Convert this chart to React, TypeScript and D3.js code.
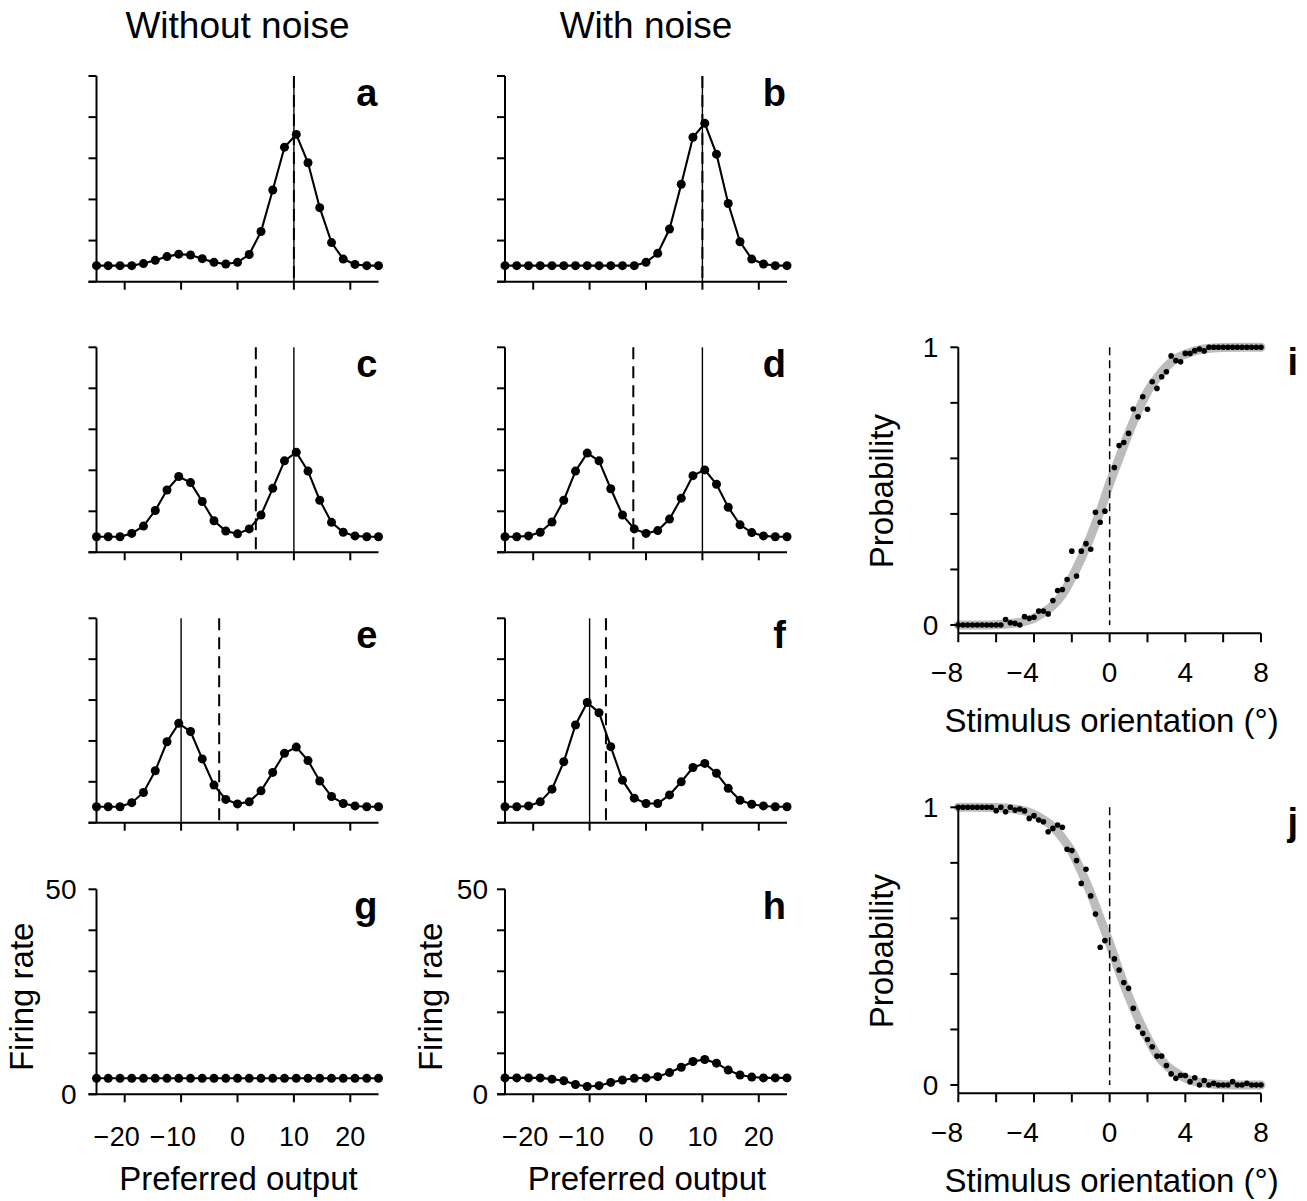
import React from "react";
import * as d3 from "d3";

// ---------- data ----------
const preferredOutput = [
  -25, -22.92, -20.83, -18.75, -16.67, -14.58, -12.5, -10.42, -8.33, -6.25, -4.17, -2.08, 0,
  2.08, 4.17, 6.25, 8.33, 10.42, 12.5, 14.58, 16.67, 18.75, 20.83, 22.92, 25,
];
const rateA = [3.9, 3.9, 3.9, 3.9, 4.4, 5.2, 6.1, 6.7, 6.5, 5.6, 4.7, 4.3, 4.7, 6.6, 12.2, 22.3, 32.7, 35.8, 28.9, 18.0, 9.5, 5.5, 4.2, 3.9, 3.9];
const rateB = [3.9, 3.9, 3.9, 3.9, 3.9, 3.9, 3.9, 3.9, 3.9, 3.9, 3.9, 3.9, 4.7, 6.9, 12.8, 23.7, 35.1, 38.5, 31.0, 19.0, 9.7, 5.5, 4.3, 3.9, 3.9];
const rateC = [3.8, 3.8, 3.8, 4.6, 6.4, 10.2, 15.2, 18.5, 17.0, 12.4, 7.7, 5.2, 4.5, 5.7, 9.1, 15.6, 22.3, 24.4, 19.8, 12.7, 7.3, 4.9, 4.0, 3.8, 3.8];
const rateD = [3.8, 3.8, 4.0, 4.9, 7.4, 12.7, 19.8, 24.2, 22.3, 15.5, 9.1, 5.7, 4.6, 5.3, 8.1, 13.2, 18.7, 20.1, 16.6, 11.0, 6.7, 4.8, 4.0, 3.8, 3.8];
const rateE = [3.9, 3.9, 3.9, 4.9, 7.4, 12.7, 19.8, 24.3, 22.3, 15.6, 9.2, 5.7, 4.6, 5.1, 7.8, 12.3, 17.0, 18.5, 15.2, 10.2, 6.4, 4.7, 4.1, 3.9, 3.9];
const rateF = [3.9, 3.9, 4.1, 5.1, 8.2, 14.9, 23.9, 29.4, 26.9, 18.6, 10.4, 6.0, 4.7, 4.7, 6.8, 10.0, 13.5, 14.5, 12.1, 8.4, 5.5, 4.5, 4.1, 3.9, 3.9];
const rateG = [3.9, 3.9, 3.9, 3.9, 3.9, 3.9, 3.9, 3.9, 3.9, 3.9, 3.9, 3.9, 3.9, 3.9, 3.9, 3.9, 3.9, 3.9, 3.9, 3.9, 3.9, 3.9, 3.9, 3.9, 3.9];
const rateH = [4.0, 4.0, 4.0, 4.0, 3.7, 3.3, 2.4, 1.9, 2.1, 2.9, 3.5, 3.9, 4.0, 4.3, 5.3, 6.6, 8.0, 8.5, 7.6, 5.9, 4.7, 4.2, 4.0, 4.0, 4.0];

// vertical markers (solid = true stimulus, dashed = decoded estimate) for panels a–f
const solidMarker = [10, 10, 10, 10, -10, -10];
const dashedMarker = [10, 10, 3.25, -2.25, -3.25, -7.1];

const panelLetters = ["a", "b", "c", "d", "e", "f", "g", "h"];
const columnTitles = ["Without noise", "With noise"];
const xTicksPref = [-20, -10, 0, 10, 20];
const yTicksRate = [0, 10, 20, 30, 40, 50];
const yLabelsRate = [0, 50];

const orientations = [
  -8, -7.75, -7.5, -7.25, -7, -6.75, -6.5, -6.25, -6, -5.75, -5.5, -5.25, -5, -4.75, -4.5, -4.25,
  -4, -3.75, -3.5, -3.25, -3, -2.75, -2.5, -2.25, -2, -1.75, -1.5, -1.25, -1, -0.75, -0.5, -0.25,
  0.25, 0.5, 0.75, 1, 1.25, 1.5, 1.75, 2, 2.25, 2.5, 2.75, 3, 3.25, 3.5, 3.75, 4,
  4.25, 4.5, 4.75, 5, 5.25, 5.5, 5.75, 6, 6.25, 6.5, 6.75, 7, 7.25, 7.5, 7.75, 8,
];
const probI = [
  0, 0, 0, 0, 0, 0, 0, 0, 0, 0, 0.02, 0.008, 0.006, 0, 0.03, 0.024,
  0.028, 0.05, 0.05, 0.04, 0.088, 0.124, 0.128, 0.164, 0.266, 0.176, 0.266, 0.293, 0.273, 0.406, 0.37, 0.41,
  0.567, 0.646, 0.657, 0.69, 0.778, 0.75, 0.822, 0.777, 0.876, 0.852, 0.894, 0.912, 0.969, 0.952, 0.948, 0.978,
  0.978, 0.988, 0.994, 0.987, 1, 1, 1, 1, 1, 1, 1, 1, 1, 1, 1, 1,
];
const probJ = [
  1, 1, 1, 1, 1, 1, 1, 1, 0.988, 1, 0.984, 1, 0.99, 0.994, 0.987, 0.96,
  0.97, 0.954, 0.948, 0.912, 0.924, 0.936, 0.928, 0.849, 0.844, 0.808, 0.726, 0.777, 0.681, 0.616, 0.496, 0.52,
  0.454, 0.414, 0.369, 0.348, 0.276, 0.21, 0.186, 0.164, 0.138, 0.104, 0.104, 0.07, 0.04, 0.024, 0.035, 0.034,
  0.012, 0.026, 0, 0.016, 0, 0.006, 0, 0, 0, 0.012, 0, 0, 0.006, 0, 0, 0,
];
const fitX = [-8, -7, -6, -5, -4.5, -4, -3.5, -3, -2.5, -2, -1.5, -1, -0.5, 0, 0.5, 1, 1.5, 2, 2.5, 3, 3.5, 4, 4.5, 5, 6, 7, 8];
const fitI = [0, 0, 0.001, 0.007, 0.013, 0.025, 0.045, 0.07, 0.11, 0.17, 0.24, 0.32, 0.41, 0.51, 0.6, 0.69, 0.77, 0.84, 0.89, 0.93, 0.96, 0.975, 0.987, 0.994, 0.999, 1, 1];
const fitJ = [1, 1, 0.999, 0.993, 0.987, 0.975, 0.955, 0.93, 0.89, 0.84, 0.77, 0.69, 0.6, 0.51, 0.41, 0.32, 0.24, 0.17, 0.11, 0.07, 0.045, 0.025, 0.013, 0.007, 0.001, 0, 0];
const xTicksOri = [-8, -6, -4, -2, 0, 2, 4, 6, 8];
const xLabelsOri = [-8, -4, 0, 4, 8];
const yTicksProb = [0, 0.2, 0.4, 0.6, 0.8, 1];
const yLabelsProb = [0, 1];

// ---------- layout ----------
const W = 1307;
const H = 1201;
const FONT = '"Liberation Sans", Arial, Helvetica, sans-serif';
const colRange = [
  [96.5, 378.5],
  [505, 787],
];
const rowRange = [
  [281.7, 76],
  [552.3, 347.3],
  [822.7, 618.3],
  [1094.3, 889.3],
];
const TICK_FS = 27;
const TITLE_FS = 33;

function NegLabel({ x, y, v, fs }: { x: number; y: number; v: number; fs: number }) {
  const digits = String(Math.abs(v));
  const dw = digits.length * 0.556 * fs;
  return (
    <g>
      <text x={x} y={y} textAnchor="middle" fontSize={fs} fontFamily={FONT}>
        {digits}
      </text>
      {v < 0 && (
        <text x={x - dw / 2 - 0.5} y={y} textAnchor="end" fontSize={fs} fontFamily={FONT}>
          {"\u2212"}
        </text>
      )}
    </g>
  );
}

function TuningPanel({ idx, rates }: { idx: number; rates: number[] }) {
  const col = idx % 2;
  const row = Math.floor(idx / 2);
  const x = d3.scaleLinear().domain([-25, 25]).range(colRange[col]);
  const y = d3.scaleLinear().domain([0, 50]).range(rowRange[row]);
  const line = d3
    .line<number>()
    .x((_, i) => x(preferredOutput[i]))
    .y((d) => y(d));
  const x0 = x(-25);
  const x1 = x(25);
  const y0 = y(0);
  const yTop = y(50);
  const bottom = row === 3;
  return (
    <g>
      {idx < 6 && (
        <>
          <line x1={x(solidMarker[idx])} x2={x(solidMarker[idx])} y1={yTop} y2={y0} stroke="#000" strokeWidth={1.4} />
          <line
            x1={x(dashedMarker[idx])}
            x2={x(dashedMarker[idx])}
            y1={yTop}
            y2={y0}
            stroke="#000"
            strokeWidth={2}
            strokeDasharray="12,7"
          />
        </>
      )}
      {/* axes */}
      <line x1={x0} x2={x0} y1={yTop} y2={y0} stroke="#000" strokeWidth={2} />
      <line x1={x0 - 8} x2={x1} y1={y0} y2={y0} stroke="#000" strokeWidth={2} />
      {yTicksRate.map((t) => (
        <line key={"yt" + t} x1={x0 - 8} x2={x0} y1={y(t)} y2={y(t)} stroke="#000" strokeWidth={2} />
      ))}
      {xTicksPref.map((t) => (
        <line key={"xt" + t} x1={x(t)} x2={x(t)} y1={y0} y2={y0 + 8} stroke="#000" strokeWidth={2} />
      ))}
      <path d={line(rates) || ""} fill="none" stroke="#000" strokeWidth={2.1} />
      {rates.map((d, i) => (
        <circle key={i} cx={x(preferredOutput[i])} cy={y(d)} r={4.5} fill="#000" />
      ))}
      <text
        x={x1 - 1}
        y={yTop + 30}
        textAnchor="end"
        fontSize={38}
        fontWeight="bold"
        fontFamily={FONT}
      >
        {panelLetters[idx]}
      </text>
      {bottom && (
        <>
          {yLabelsRate.map((t) => (
            <text
              key={"yl" + t}
              x={col === 0 ? x0 - 20 : x0 - 17}
              y={y(t)}
              dy="0.36em"
              textAnchor="end"
              fontSize={TICK_FS + 1}
              fontFamily={FONT}
            >
              {t}
            </text>
          ))}
          {xTicksPref.map((t) => (
            <NegLabel key={"xl" + t} x={x(t)} y={y0 + 52} v={t} fs={TICK_FS} />
          ))}
          <text
            x={(x0 + x1) / 2 + 1}
            y={y0 + 96}
            textAnchor="middle"
            fontSize={TITLE_FS}
            fontFamily={FONT}
          >
            Preferred output
          </text>
          <text
            transform={`translate(${x0 - 63.5},${(y0 + yTop) / 2 + 5}) rotate(-90)`}
            textAnchor="middle"
            fontSize={TITLE_FS}
            fontFamily={FONT}
          >
            Firing rate
          </text>
        </>
      )}
    </g>
  );
}

function ProbPanel({
  probs,
  fit,
  yRange,
  letter,
}: {
  probs: number[];
  fit: number[];
  yRange: [number, number];
  letter: string;
}) {
  const x = d3.scaleLinear().domain([-8, 8]).range([958.3, 1261]);
  const y = d3.scaleLinear().domain([0, 1]).range(yRange);
  const axisY = y(0) + 8.3;
  const fitLine = d3
    .line<number>()
    .x((_, i) => x(fitX[i]))
    .y((d) => y(d))
    .curve(d3.curveMonotoneX);
  const x0 = x(-8);
  const x1 = x(8);
  return (
    <g>
      <path d={fitLine(fit) || ""} fill="none" stroke="#bcbcbc" strokeWidth={9} strokeLinecap="round" />
      <line x1={x(0)} x2={x(0)} y1={y(1)} y2={y(0)} stroke="#000" strokeWidth={1.5} strokeDasharray="8,5" />
      <line x1={x0} x2={x0} y1={y(1)} y2={axisY} stroke="#000" strokeWidth={2} />
      <line x1={x0} x2={x1} y1={axisY} y2={axisY} stroke="#000" strokeWidth={2} />
      {yTicksProb.map((t) => (
        <line key={"yt" + t} x1={x0 - 8} x2={x0} y1={y(t)} y2={y(t)} stroke="#000" strokeWidth={2} />
      ))}
      {xTicksOri.map((t) => (
        <line key={"xt" + t} x1={x(t)} x2={x(t)} y1={axisY} y2={axisY + 9} stroke="#000" strokeWidth={2} />
      ))}
      {probs.map((d, i) => (
        <circle key={i} cx={x(orientations[i])} cy={y(d)} r={2.8} fill="#000" />
      ))}
      {yLabelsProb.map((t) => (
        <text
          key={"yl" + t}
          x={x0 - 20}
          y={y(t)}
          dy="0.36em"
          textAnchor="end"
          fontSize={TICK_FS + 1}
          fontFamily={FONT}
        >
          {t}
        </text>
      ))}
      {xLabelsOri.map((t) => (
        <NegLabel key={"xl" + t} x={x(t) - (t < 0 ? 3 : 0)} y={axisY + 48.5} v={t} fs={TICK_FS + 1} />
      ))}
      <text x={(x0 + x1) / 2 + 2} y={axisY + 98.5} textAnchor="middle" fontSize={TITLE_FS} fontFamily={FONT}>
        Stimulus orientation (°)
      </text>
      <text
        transform={`translate(893.3,${(y(0) + y(1)) / 2 + 5}) rotate(-90)`}
        textAnchor="middle"
        fontSize={TITLE_FS}
        fontFamily={FONT}
      >
        Probability
      </text>
      <text x={1298} y={y(1) + 28} textAnchor="end" fontSize={38} fontWeight="bold" fontFamily={FONT}>
        {letter}
      </text>
    </g>
  );
}

export default function App() {
  const rates = [rateA, rateB, rateC, rateD, rateE, rateF, rateG, rateH];
  return (
    <svg
      width={W}
      height={H}
      viewBox={`0 0 ${W} ${H}`}
      style={{ position: "absolute", left: 0, top: 0, display: "block", background: "#fff" }}
    >
      <rect width={W} height={H} fill="#fff" />
      {columnTitles.map((t, i) => (
        <text
          key={t}
          x={(colRange[i][0] + colRange[i][1]) / 2}
          y={38}
          textAnchor="middle"
          fontSize={37}
          fontFamily={FONT}
        >
          {t}
        </text>
      ))}
      {rates.map((r, i) => (
        <TuningPanel key={i} idx={i} rates={r} />
      ))}
      <ProbPanel probs={probI} fit={fitI} yRange={[625, 347.3]} letter="i" />
      <ProbPanel probs={probJ} fit={fitJ} yRange={[1085, 807.3]} letter="j" />
    </svg>
  );
}
